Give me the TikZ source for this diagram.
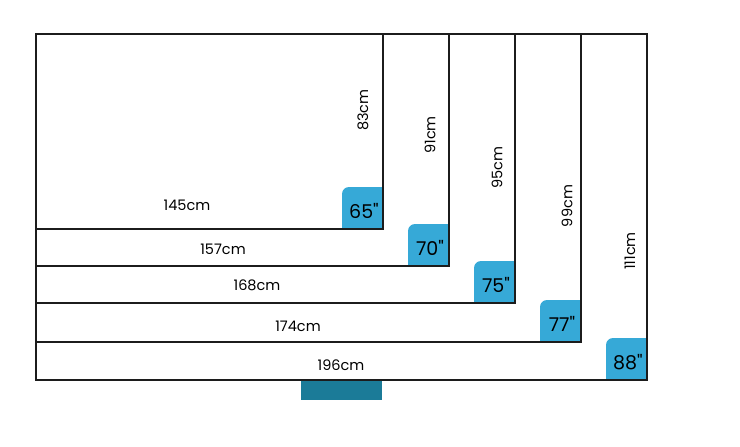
\documentclass[tikz,border=0pt]{standalone}
\usepackage{fontspec}
\setmainfont{Poppins}
\newfontfamily\badgefont{Poppins}[Ligatures=TeXOff]
\usetikzlibrary{calc}
\definecolor{badgeblue}{HTML}{36A9D7}
\definecolor{standteal}{HTML}{1B7B98}
\definecolor{framegray}{HTML}{1C1C1C}
\tikzset{
	frame/.style={draw=framegray, line width=2pt},
	sizelabel/.style={inner sep=0pt, font=\fontsize{14.5}{16}\selectfont},
	badgelabel/.style={inner sep=0pt, font=\badgefont\fontsize{19}{21}\selectfont}
}
\begin{document}
\begin{tikzpicture}[x=1pt, y=-1pt]
	\def \leftx {36}
	\def \topy {34}
	\def \badge {41}
	\useasboundingbox (0,0) rectangle (740,447);

	% stand
	\fill[standteal] (301,380) rectangle (382,400);

	% screens: right/bottom/width label/height label/size
	\foreach \r/\b/\wx/\wy/\w/\hx/\hy/\h/\s in {
		383/229/187/205.5/145/363/110/83/65,
		449/266/223/249/157/430/135/91/70,
		515/303/257/285.5/168/497/168/95/75,
		581/342/298/326/174/567/206/99/77,
		647/380/341/365/196/630/251/111/88}
	{
		\fill[badgeblue] ({\r-\badge},\b) -- ({\r-\badge},{\b-\badge+6})
			arc[start angle=180, end angle=270, radius=7] -- (\r,{\b-\badge-1}) -- (\r,\b) -- cycle;
		\draw[frame] (\leftx,\topy) rectangle (\r,\b);
		\node[badgelabel] (badge\s) at ({\r-19},{\b-18}) {\s"};
		\node[sizelabel] (width\s) at (\wx,\wy) {\w cm};
		\node[sizelabel, rotate=90] (height\s) at (\hx,\hy) {\h cm};
	}
\end{tikzpicture}
\end{document}
